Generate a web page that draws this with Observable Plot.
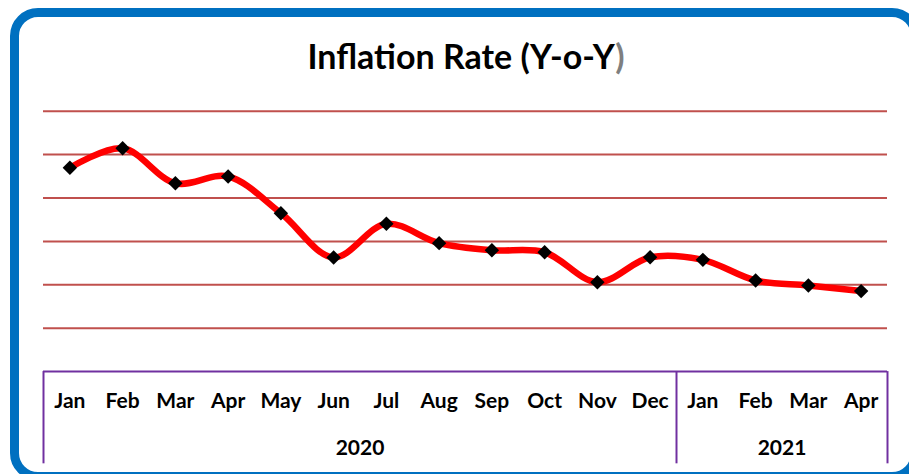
<!DOCTYPE html>
<html>
<head>
<meta charset="utf-8">
<script src="https://cdn.jsdelivr.net/npm/d3@7"></script>
<script src="https://cdn.jsdelivr.net/npm/@observablehq/plot@0.6"></script>
<style>
  html, body { margin: 0; padding: 0; background: #fff; width: 909px; height: 474px; overflow: hidden; }
  #frame { position: absolute; left: 10px; top: 8px; width: 892px; height: 455px; border: 9px solid #0070C0; border-radius: 28px; box-sizing: content-box; }
  #title { position: absolute; left: 0; top: 0; width: 909px; height: 90px; }
  #title span.t { position: absolute; left: 466px; top: 39px; transform: translateX(-50%); white-space: nowrap;
    font-family: Lato, sans-serif; font-weight: 700; font-size: 34px; color: #000; line-height: 1; }
  #chart { position: absolute; left: 0; top: 90px; }
</style>
</head>
<body>
<div id="frame"></div>
<div id="title"><span class="t">Inflation Rate (Y-o-Y<span style="color:#7f7f7f">)</span></span></div>
<div id="chart"></div>
<script>
const months = ["Jan","Feb","Mar","Apr","May","Jun","Jul","Aug","Sep","Oct","Nov","Dec","Jan","Feb","Mar","Apr"];
const years = ["2020","2020","2020","2020","2020","2020","2020","2020","2020","2020","2020","2020","2021","2021","2021","2021"];
const values = [7.39, 8.29, 6.68, 6.99, 5.30, 3.26, 4.81, 3.92, 3.59, 3.50, 2.12, 3.27, 3.15, 2.20, 1.97, 1.71];
const gridTicks = [0, 2, 4, 6, 8, 10];
const yearLabels = ["2020", "2021"];

const data = months.map((m, i) => ({i, month: m, year: years[i], value: values[i]}));
// year groups: center and edges computed from the category index
const groups = yearLabels.map(y => {
  const idx = data.filter(d => d.year === y).map(d => d.i);
  return {year: y, lo: d3.min(idx) - 0.5, hi: d3.max(idx) + 0.5, mid: (d3.min(idx) + d3.max(idx)) / 2};
});
const edges = Array.from(new Set(groups.flatMap(g => [g.lo, g.hi])));

const W = 909, H = 384;
const mt = 20.7, mb = 146.3, ml = 43, mr = 22;

const plot = Plot.plot({
  width: W, height: H,
  marginTop: mt, marginBottom: mb, marginLeft: ml, marginRight: mr,
  x: {type: "linear", domain: [-0.5, months.length - 0.5], axis: null},
  y: {domain: [0, 10], axis: null},
  style: {fontFamily: "Lato, sans-serif", background: "transparent", overflow: "visible"},
  marks: [
    Plot.ruleY(gridTicks, {stroke: "#C0504D", strokeWidth: 2}),
    Plot.line(data, {x: "i", y: "value", stroke: "#FF0000", strokeWidth: 6.5, curve: "catmull-rom"}),
    Plot.dot(data, {x: "i", y: "value", symbol: "diamond2", r: 6.5, fill: "#000", stroke: "none"}),
    // category axis box (purple)
    Plot.ruleY([-2], {x1: -0.5, x2: months.length - 0.5, stroke: "#7030A0", strokeWidth: 2}),
    Plot.ruleX(edges, {x: d => d, y1: -2, y2: -6.25, stroke: "#7030A0", strokeWidth: 2}),
    Plot.text(data, {x: "i", y: -3.38, text: "month", fontSize: 21, fontWeight: 700, fill: "#000", lineAnchor: "middle"}),
    Plot.text(groups, {x: "mid", y: -5.52, text: "year", fontSize: 21, fontWeight: 700, fill: "#000", lineAnchor: "middle"})
  ]
});
document.getElementById("chart").appendChild(plot);
</script>
</body>
</html>
